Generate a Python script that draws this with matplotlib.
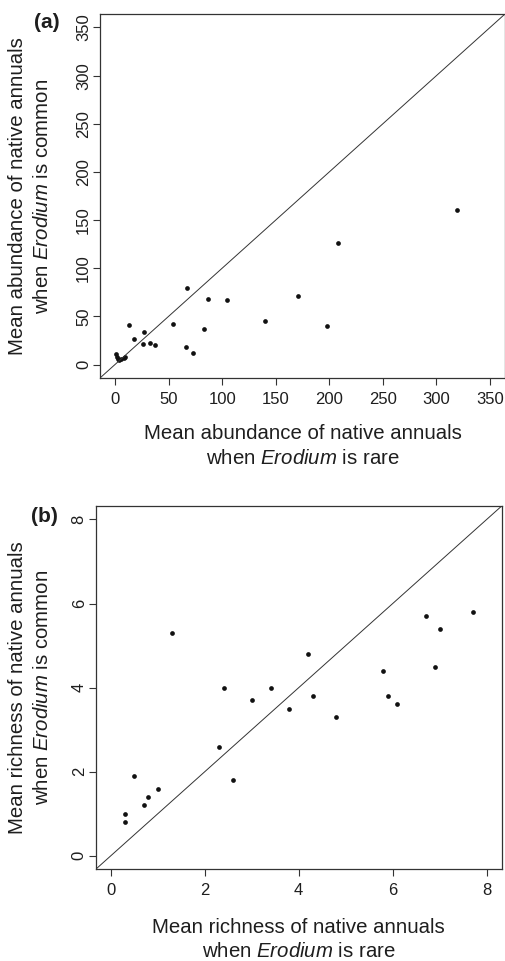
import matplotlib
matplotlib.use("Agg")
import numpy as np
from matplotlib import pyplot as plt

# Panel (a): mean abundance, Erodium rare (x) vs common (y)
abund_rare = [1, 2, 3, 4, 6, 8, 9, 13, 18, 27, 26, 33, 37, 54, 66, 67, 73, 83,
              87, 105, 140, 171, 198, 208, 319]
abund_common = [11, 8, 6, 5, 6, 7, 8, 41, 27, 34, 21, 22, 20, 42, 18, 79, 12, 37,
                68, 67, 45, 71, 40, 126, 160]

# Panel (b): mean richness, Erodium rare (x) vs common (y)
rich_rare = [0.3, 0.3, 0.5, 0.7, 0.8, 1.0, 1.3, 2.3, 2.4, 2.6, 3.0, 3.4, 3.8,
             4.2, 4.3, 4.8, 5.8, 5.9, 6.1, 6.7, 6.9, 7.0, 7.7]
rich_common = [0.8, 1.0, 1.9, 1.2, 1.4, 1.6, 5.3, 2.6, 4.0, 1.8, 3.7, 4.0, 3.5,
               4.8, 3.8, 3.3, 4.4, 3.8, 3.6, 5.7, 4.5, 5.4, 5.8]

abund_ticks = np.arange(0, 351, 50)
rich_ticks = np.arange(0, 9, 2)

plt.rcParams["font.family"] = ["Liberation Sans", "DejaVu Sans"]
plt.rcParams["mathtext.fontset"] = "custom"
plt.rcParams["mathtext.rm"] = "Liberation Sans"
plt.rcParams["mathtext.it"] = "Liberation Sans:italic"

W, H = 506, 961
ink = "#1e1e1e"


def px_box(left, top, right, bottom):
    # convert a pixel box into figure coordinates
    return [left / W, 1 - bottom / H, (right - left) / W, (bottom - top) / H]


def draw_panel(ax, x, y, ticks, lim):
    ax.plot(x, y, "o", color="#111111", markersize=3.4, markeredgewidth=0)
    ax.axline((0, 0), slope=1, color="#333333", linewidth=0.7)
    ax.set_xlim(lim)
    ax.set_ylim(lim)
    ax.set_xticks(ticks)
    ax.set_yticks(ticks)
    for s in ax.spines.values():
        s.set_color("#333333")
        s.set_linewidth(0.9)
    ax.tick_params(direction="out", length=5, width=0.8, color="#333333",
                   labelsize=12, labelcolor=ink)
    ax.tick_params(axis="x", pad=5)
    ax.tick_params(axis="y", pad=1.5)
    for lab in ax.get_yticklabels():
        lab.set_rotation(90)
        lab.set_va("center")


fig = plt.figure(figsize=(W / 100, H / 100), dpi=100)

ax_a = fig.add_axes(px_box(100, 14, 505, 378))
draw_panel(ax_a, abund_rare, abund_common, abund_ticks, (-14, 364))

ax_b = fig.add_axes(px_box(95.7, 506, 501.7, 869.3))
draw_panel(ax_b, rich_rare, rich_common, rich_ticks, (-0.32, 8.32))

lab_kw = dict(fontsize=14.7, color=ink, ha="center", va="center",
              linespacing=1.38)

fig.text(302.5 / W, 1 - 446 / H,
         "Mean abundance of native annuals\nwhen $\\mathit{Erodium}$ is rare",
         **lab_kw)
fig.text(30 / W, 1 - 196 / H,
         "Mean abundance of native annuals\nwhen $\\mathit{Erodium}$ is common",
         rotation=90, **lab_kw)

fig.text(298.7 / W, 1 - 939.5 / H,
         "Mean richness of native annuals\nwhen $\\mathit{Erodium}$ is rare",
         **lab_kw)
fig.text(30 / W, 1 - 687.5 / H,
         "Mean richness of native annuals\nwhen $\\mathit{Erodium}$ is common",
         rotation=90, **lab_kw)

fig.text(47 / W, 1 - 22 / H, "(a)", fontsize=15, fontweight="bold",
         color=ink, ha="center", va="center")
fig.text(44 / W, 1 - 516 / H, "(b)", fontsize=15, fontweight="bold",
         color=ink, ha="center", va="center")

fig.savefig("out.png", dpi=100)
